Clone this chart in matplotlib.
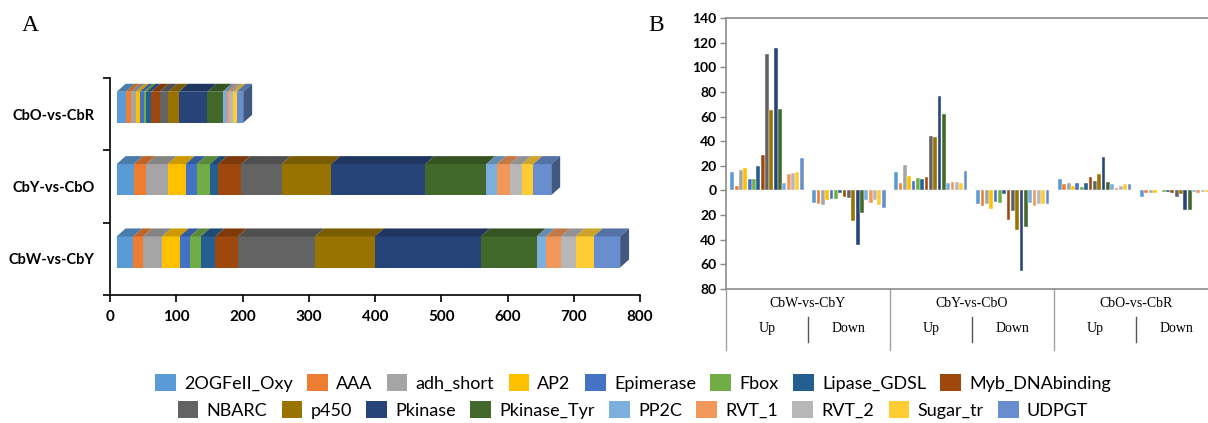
import matplotlib
matplotlib.use('Agg')
import matplotlib.pyplot as plt
from matplotlib.patches import Polygon, Rectangle
from matplotlib.lines import Line2D
from matplotlib.transforms import blended_transform_factory
import matplotlib.colors as mcolors
import numpy as np

plt.rcParams['font.family'] = ['Lato', 'DejaVu Sans']

# ---------------- data ----------------
domains = ['2OGFeII_Oxy', 'AAA', 'adh_short', 'AP2', 'Epimerase', 'Fbox',
           'Lipase_GDSL', 'Myb_DNAbinding', 'NBARC', 'p450', 'Pkinase',
           'Pkinase_Tyr', 'PP2C', 'RVT_1', 'RVT_2', 'Sugar_tr', 'UDPGT']
colors = ['#5B9BD5', '#ED7D31', '#A5A5A5', '#FFC000', '#4472C4', '#70AD47',
          '#255E91', '#9E480E', '#636363', '#997300', '#264478', '#43682B',
          '#7CAFDD', '#F1975A', '#B7B7B7', '#FFCD33', '#698ED0']
comparisons = ['CbW-vs-CbY', 'CbY-vs-CbO', 'CbO-vs-CbR']
directions = ['Up', 'Down']

up_WY = [15, 4, 17, 18, 9, 9, 20, 29, 111, 65, 116, 66, 6, 13, 14, 15, 26]
down_WY = [10, 11, 12, 8, 7, 7, 2, 5, 6, 25, 44, 18, 8, 10, 8, 12, 14]
up_YO = [15, 6, 21, 12, 8, 10, 9, 11, 44, 43, 77, 62, 6, 7, 7, 6, 16]
down_YO = [11, 13, 11, 15, 9, 10, 3, 24, 17, 32, 65, 30, 10, 13, 11, 11, 11]
up_OR = [9, 5, 6, 4, 6, 3, 6, 11, 8, 13, 27, 7, 5, 2, 4, 5, 5]
down_OR = [5, 2, 2, 2, 0, 1, 1, 2, 5, 3, 16, 16, 1, 2, 1, 1, 5]

xticks_A = [0, 100, 200, 300, 400, 500, 600, 700, 800]
yticks_B = [-80, -60, -40, -20, 0, 20, 40, 60, 80, 100, 120, 140]

up_sets = [up_WY, up_YO, up_OR]
down_sets = [down_WY, down_YO, down_OR]

def shade(c, f):
    r, g, b = mcolors.to_rgb(c)
    return (r * f, g * f, b * f)

fig = plt.figure(figsize=(12.08, 4.23), dpi=100)

# ---------------- panel A ----------------
axA = fig.add_axes([0.0911, 0.3026, 0.4387, 0.513])
offset = 10.0   # 3-D floor offset
fh = 0.43       # front face height
dx, dy = 13.5, 0.11
for k in range(3):
    tot = np.array(up_sets[k]) + np.array(down_sets[k])
    left = offset + np.concatenate([[0], np.cumsum(tot)[:-1]])
    y0 = k - 0.12
    axA.barh(y0 + fh / 2, tot, left=left, height=fh, color=colors, linewidth=0, zorder=2)
    y1 = y0 + fh
    for i in range(len(tot)):
        a, b = left[i], left[i] + tot[i]
        if tot[i] <= 0:
            continue
        axA.add_patch(Polygon([(a, y1), (b, y1), (b + dx, y1 + dy), (a + dx, y1 + dy)],
                              closed=True, facecolor=shade(colors[i], 0.8),
                              edgecolor='none', zorder=2, clip_on=False))
    end = left[-1] + tot[-1]
    axA.add_patch(Polygon([(end, y0), (end + dx, y0 + dy), (end + dx, y1 + dy), (end, y1)],
                          closed=True, facecolor=shade(colors[-1], 0.62),
                          edgecolor='none', zorder=2, clip_on=False))

axA.set_xlim(0, 800)
axA.set_ylim(-0.5, 2.5)
axA.set_xticks(xticks_A)
axA.set_xticklabels([str(v) for v in xticks_A], fontsize=11, fontweight='bold')
axA.set_yticks([0, 1, 2])
axA.set_yticklabels(comparisons, fontsize=10.5, fontweight='bold')
axA.set_yticks([-0.5, 0.5, 1.5, 2.5], minor=True)
axA.tick_params(axis='y', which='major', length=0, pad=11)
axA.tick_params(axis='y', which='minor', length=5, width=1.2, direction='out')
axA.tick_params(axis='x', length=5, width=1.2, direction='out', pad=6)
for s in ['top', 'right']:
    axA.spines[s].set_visible(False)
for s in ['left', 'bottom']:
    axA.spines[s].set_linewidth(1.2)
    axA.spines[s].set_color('black')

# ---------------- panel B ----------------
axB = fig.add_axes([0.601, 0.3168, 0.407, 0.6407])
n = len(domains)
step = 0.9 / n
xpos = np.arange(6)
for i in range(n):
    vals = []
    for k in range(3):
        vals += [up_sets[k][i], -down_sets[k][i]]
    axB.bar(xpos + (i - (n - 1) / 2) * step, vals, width=step * 0.88,
            color=colors[i], edgecolor='white', linewidth=0.3, zorder=2)

axB.set_xlim(-0.5, 5.5)
axB.set_ylim(-80, 140)
axB.set_yticks(yticks_B)
axB.set_yticklabels([str(abs(v)) for v in yticks_B], fontsize=10, fontweight='bold')
axB.set_xticks([])
axB.tick_params(axis='y', length=4, width=1.0, color='#888888', pad=3)
for s in axB.spines.values():
    s.set_color('#8C8C8C')
    s.set_linewidth(1.2)

trans = blended_transform_factory(axB.transData, axB.transAxes)
for xv in [-0.5, 1.5, 3.5, 5.5]:
    axB.add_line(Line2D([xv, xv], [0, -0.225], transform=trans, color='#A0A0A0',
                        linewidth=1.0, clip_on=False))
for xv in [0.5, 2.5, 4.5]:
    axB.add_line(Line2D([xv, xv], [-0.103, -0.196], transform=trans, color='#555555',
                        linewidth=1.0, clip_on=False))
for k in range(3):
    axB.text(2 * k + 0.5, -0.052, comparisons[k], transform=trans, ha='center', va='center',
             fontsize=10, family='Liberation Serif')
    for j in range(2):
        axB.text(2 * k + j, -0.145, directions[j], transform=trans, ha='center', va='center',
                 fontsize=10, family='Liberation Serif')

# ---------------- panel labels ----------------
fig.text(0.018, 0.94, 'A', fontsize=17, family='Liberation Serif', ha='left', va='center')
fig.text(0.537, 0.94, 'B', fontsize=17, family='Liberation Serif', ha='left', va='center')

# ---------------- legend ----------------
handles = [Rectangle((0, 0), 1, 1, facecolor=c, edgecolor='none') for c in colors]
common = dict(frameon=False, fontsize=13, handlelength=1.15, handleheight=1.0,
              handletextpad=0.45, columnspacing=0.8, borderpad=0, borderaxespad=0,
              loc='center')
fig.legend(handles[:8], domains[:8], ncol=8, bbox_to_anchor=(0.524, 0.0946), **common)
fig.legend(handles[8:], domains[8:], ncol=9, bbox_to_anchor=(0.524, 0.0307), **common)

fig.savefig('out.png', dpi=100)
